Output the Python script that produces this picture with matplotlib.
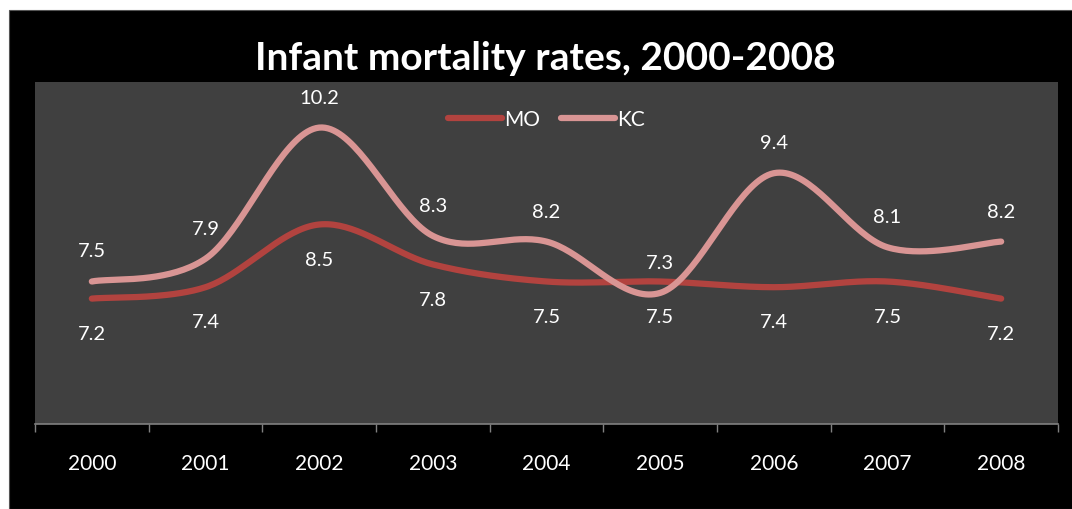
import matplotlib.pyplot as plt
from matplotlib.patches import Rectangle
import numpy as np

years = ['2000', '2001', '2002', '2003', '2004', '2005', '2006', '2007', '2008']
mo = [7.2, 7.4, 8.5, 7.8, 7.5, 7.5, 7.4, 7.5, 7.2]
kc = [7.5, 7.9, 10.2, 8.3, 8.2, 7.3, 9.4, 8.1, 8.2]

mo_color = '#B2433F'
kc_color = '#D99594'

plt.rcParams['font.family'] = ['Lato', 'DejaVu Sans']


def smooth(y, n=40):
    # catmull-rom style curve through the points, like excel's smoothed line
    y = np.asarray(y, dtype=float)
    x = np.arange(len(y), dtype=float)
    px = np.concatenate([[x[0]], x, [x[-1]]])
    py = np.concatenate([[y[0]], y, [y[-1]]])
    xs, ys = [], []
    for i in range(1, len(px) - 2):
        p0, p1, p2, p3 = px[i-1:i+3]
        q0, q1, q2, q3 = py[i-1:i+3]
        t = np.linspace(0, 1, n)
        c1x, c1y = p1 + (p2 - p0) / 6, q1 + (q2 - q0) / 6
        c2x, c2y = p2 - (p3 - p1) / 6, q2 - (q3 - q1) / 6
        bx = (1-t)**3*p1 + 3*(1-t)**2*t*c1x + 3*(1-t)*t**2*c2x + t**3*p2
        by = (1-t)**3*q1 + 3*(1-t)**2*t*c1y + 3*(1-t)*t**2*c2y + t**3*q2
        xs.extend(bx)
        ys.extend(by)
    return np.array(xs), np.array(ys)


fig = plt.figure(figsize=(10.72, 5.10), dpi=100)
fig.patch.set_facecolor('white')
fig.patches.append(Rectangle((9/1072, 0), 1, 499/510, transform=fig.transFigure,
                             facecolor='black', edgecolor='#555555', lw=0.8, zorder=-10))

ax = fig.add_axes([35/1072, 85/510, 1023/1072, 342/510])
ax.set_zorder(1)
ax.set_facecolor('#404040')

x = np.arange(len(years))
sx, sy = smooth(mo)
ax.plot(sx, sy, color=mo_color, lw=4.5, solid_capstyle='round', label='MO')
sx, sy = smooth(kc)
ax.plot(sx, sy, color=kc_color, lw=4.5, solid_capstyle='round', label='KC')

for i in x:
    ax.annotate(f'{mo[i]:.1f}', (i, mo[i]), xytext=(0, -25), textcoords='offset points',
                ha='center', va='center', color='white', fontsize=14.5)
    ax.annotate(f'{kc[i]:.1f}', (i, kc[i]), xytext=(0, 22), textcoords='offset points',
                ha='center', va='center', color='white', fontsize=14.5)

ax.set_xlim(-0.5, len(years) - 0.5)
ax.set_ylim(5, 11)
ax.set_yticks([])
ax.set_xticks(x)
ax.set_xticklabels(years, color='white', fontsize=15)
ax.set_xticks(np.arange(-0.5, len(years)), minor=True)
ax.tick_params(axis='x', which='major', length=0, pad=21)
ax.tick_params(axis='x', which='minor', length=6, color='#808080', width=1)
for s in ['top', 'right', 'left']:
    ax.spines[s].set_visible(False)
ax.spines['bottom'].set_color('#808080')
ax.spines['bottom'].set_linewidth(1.2)

ax.legend(loc='upper center', bbox_to_anchor=(0.5, 0.975), ncol=2, frameon=False,
          labelcolor='white', fontsize=15, handlelength=2.6, handletextpad=0.1,
          columnspacing=1.0)

fig.text(545/1072, 1 - 58/510, 'Infant mortality rates, 2000-2008', ha='center', va='center',
         color='white', fontsize=28, fontweight='bold')

fig.savefig('out.png', dpi=100, facecolor=fig.get_facecolor())
